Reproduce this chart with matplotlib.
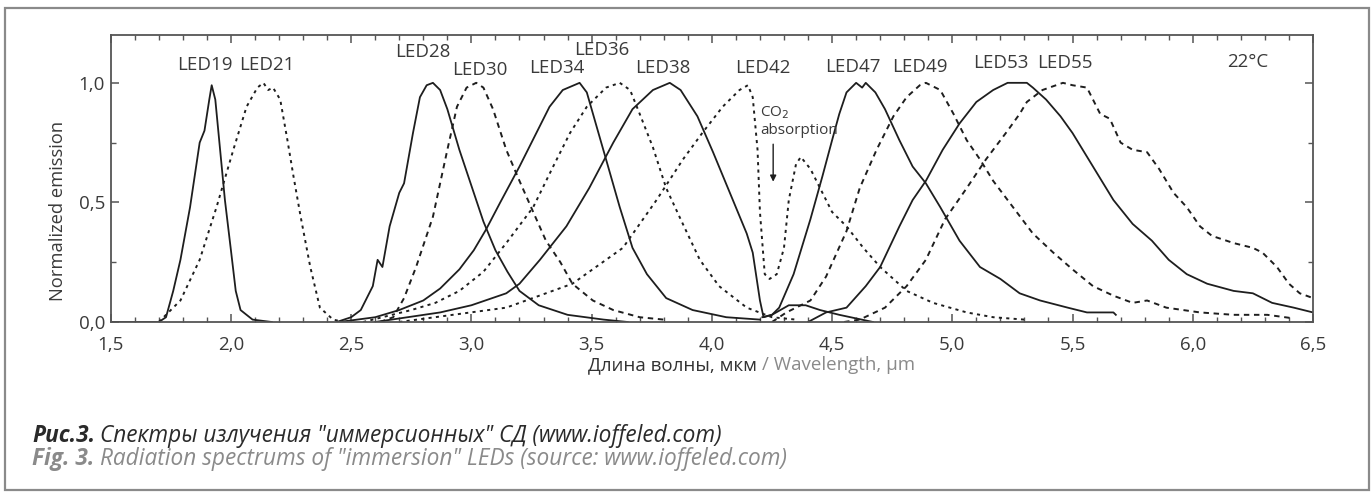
import matplotlib
matplotlib.use("Agg")
import matplotlib.pyplot as plt
from matplotlib.patches import Rectangle
from matplotlib.ticker import MultipleLocator, FixedLocator

plt.rcParams['font.family'] = ['Open Sans', 'DejaVu Sans']

# ---------------- data ----------------
led19_x = [1.50, 1.60, 1.70, 1.73, 1.76, 1.79, 1.83, 1.87, 1.89, 1.91, 1.92, 1.935, 1.955, 1.975, 2.00, 2.02, 2.04, 2.09, 2.17]
led19_y = [0.0, 0.0, 0.0, 0.02, 0.13, 0.26, 0.48, 0.75, 0.80, 0.93, 0.99, 0.93, 0.72, 0.51, 0.30, 0.13, 0.05, 0.01, 0.0]

led21_x = [1.70, 1.79, 1.87, 1.94, 2.01, 2.065, 2.11, 2.135, 2.155, 2.175, 2.205, 2.235, 2.26, 2.29, 2.33, 2.37, 2.425, 2.47]
led21_y = [0.0, 0.09, 0.26, 0.48, 0.72, 0.90, 0.98, 1.0, 0.97, 0.98, 0.93, 0.76, 0.61, 0.44, 0.23, 0.06, 0.01, 0.0]

led28_x = [2.44, 2.50, 2.54, 2.59, 2.61, 2.63, 2.66, 2.70, 2.72, 2.757, 2.786, 2.814, 2.84, 2.87, 2.90, 2.95, 3.00, 3.05, 3.10, 3.15, 3.20, 3.28, 3.40, 3.55, 3.65]
led28_y = [0.0, 0.02, 0.05, 0.15, 0.26, 0.23, 0.40, 0.54, 0.58, 0.79, 0.94, 0.99, 1.0, 0.97, 0.89, 0.72, 0.57, 0.42, 0.30, 0.21, 0.13, 0.07, 0.03, 0.01, 0.0]

led30_x = [2.62, 2.675, 2.72, 2.77, 2.84, 2.90, 2.94, 2.98, 3.02, 3.05, 3.09, 3.145, 3.20, 3.257, 3.31, 3.37, 3.42, 3.505, 3.59, 3.70, 3.80]
led30_y = [0.0, 0.02, 0.10, 0.23, 0.44, 0.72, 0.90, 0.98, 1.0, 0.98, 0.89, 0.72, 0.59, 0.46, 0.34, 0.25, 0.16, 0.09, 0.05, 0.02, 0.01]

led34_x = [2.45, 2.60, 2.70, 2.80, 2.87, 2.95, 3.01, 3.06, 3.12, 3.20, 3.27, 3.325, 3.38, 3.45, 3.48, 3.52, 3.56, 3.617, 3.67, 3.73, 3.81, 3.92, 4.06, 4.20]
led34_y = [0.0, 0.02, 0.05, 0.09, 0.14, 0.22, 0.30, 0.385, 0.50, 0.65, 0.79, 0.90, 0.97, 1.0, 0.96, 0.82, 0.68, 0.48, 0.31, 0.20, 0.10, 0.05, 0.02, 0.01]

led36_x = [2.55, 2.75, 2.85, 2.95, 3.05, 3.145, 3.257, 3.34, 3.41, 3.48, 3.56, 3.617, 3.66, 3.70, 3.755, 3.81, 3.87, 3.95, 4.03, 4.145, 4.25, 4.35]
led36_y = [0.0, 0.05, 0.08, 0.13, 0.21, 0.33, 0.48, 0.65, 0.79, 0.90, 0.98, 1.0, 0.97, 0.87, 0.73, 0.56, 0.43, 0.26, 0.15, 0.06, 0.02, 0.01]

led38_x = [2.60, 2.87, 3.00, 3.145, 3.20, 3.285, 3.395, 3.49, 3.59, 3.67, 3.755, 3.825, 3.87, 3.94, 4.005, 4.075, 4.145, 4.17, 4.20, 4.215, 4.25, 4.32, 4.39, 4.45, 4.53, 4.67]
led38_y = [0.0, 0.04, 0.07, 0.12, 0.16, 0.26, 0.40, 0.56, 0.75, 0.89, 0.97, 1.0, 0.97, 0.86, 0.71, 0.54, 0.37, 0.29, 0.09, 0.02, 0.03, 0.07, 0.07, 0.05, 0.03, 0.0]

led42_x = [2.70, 3.145, 3.42, 3.63, 3.77, 3.88, 3.96, 4.045, 4.115, 4.15, 4.17, 4.19, 4.20, 4.22, 4.24, 4.27, 4.30, 4.32, 4.35, 4.37, 4.41, 4.45, 4.50, 4.56, 4.63, 4.70, 4.81, 4.92, 5.06, 5.17, 5.30]
led42_y = [0.0, 0.06, 0.16, 0.31, 0.51, 0.68, 0.79, 0.90, 0.97, 0.99, 0.94, 0.72, 0.46, 0.20, 0.18, 0.20, 0.31, 0.51, 0.66, 0.69, 0.64, 0.56, 0.46, 0.40, 0.31, 0.23, 0.13, 0.08, 0.04, 0.02, 0.01]

led47_x = [4.21, 4.25, 4.28, 4.34, 4.41, 4.46, 4.50, 4.53, 4.56, 4.60, 4.625, 4.64, 4.68, 4.72, 4.78, 4.835, 4.89, 4.95, 5.03, 5.115, 5.20, 5.28, 5.365, 5.48, 5.56, 5.67, 5.68]
led47_y = [0.02, 0.03, 0.06, 0.20, 0.43, 0.61, 0.76, 0.87, 0.96, 1.0, 0.98, 1.0, 0.96, 0.89, 0.76, 0.65, 0.58, 0.48, 0.34, 0.23, 0.18, 0.12, 0.09, 0.06, 0.04, 0.04, 0.03]

led49_x = [4.25, 4.31, 4.41, 4.475, 4.56, 4.615, 4.685, 4.755, 4.81, 4.865, 4.89, 4.95, 5.005, 5.06, 5.115, 5.17, 5.23, 5.335, 5.42, 5.50, 5.585, 5.67, 5.75, 5.81, 5.89, 6.03, 6.17, 6.31, 6.42]
led49_y = [0.0, 0.04, 0.09, 0.19, 0.38, 0.56, 0.72, 0.86, 0.94, 0.99, 1.0, 0.97, 0.87, 0.76, 0.68, 0.59, 0.51, 0.37, 0.29, 0.22, 0.15, 0.11, 0.08, 0.09, 0.06, 0.04, 0.03, 0.03, 0.015]

led53_x = [4.40, 4.475, 4.56, 4.64, 4.70, 4.78, 4.835, 4.89, 4.96, 5.03, 5.10, 5.17, 5.23, 5.31, 5.335, 5.39, 5.45, 5.50, 5.585, 5.67, 5.75, 5.83, 5.90, 5.975, 6.06, 6.17, 6.25, 6.33, 6.42, 6.50]
led53_y = [0.0, 0.04, 0.06, 0.15, 0.23, 0.40, 0.51, 0.59, 0.72, 0.83, 0.92, 0.97, 1.0, 1.0, 0.98, 0.93, 0.86, 0.79, 0.65, 0.51, 0.41, 0.34, 0.26, 0.20, 0.16, 0.13, 0.12, 0.08, 0.06, 0.04]

led55_x = [4.55, 4.615, 4.72, 4.81, 4.89, 4.97, 5.06, 5.14, 5.23, 5.28, 5.31, 5.375, 5.46, 5.50, 5.56, 5.615, 5.655, 5.70, 5.75, 5.81, 5.86, 5.92, 5.975, 6.03, 6.08, 6.17, 6.25, 6.29, 6.35, 6.40, 6.445, 6.50]
led55_y = [0.0, 0.01, 0.06, 0.15, 0.26, 0.43, 0.56, 0.68, 0.80, 0.87, 0.92, 0.97, 1.0, 0.99, 0.98, 0.87, 0.85, 0.75, 0.72, 0.71, 0.64, 0.54, 0.48, 0.40, 0.36, 0.33, 0.31, 0.29, 0.23, 0.16, 0.12, 0.10]

led_names = ["LED19", "LED21", "LED28", "LED30", "LED34", "LED36", "LED38", "LED42", "LED47", "LED49", "LED53", "LED55"]
label_x = [1.892, 2.15, 2.80, 3.035, 3.356, 3.543, 3.797, 4.21, 4.587, 4.865, 5.20, 5.47]
label_y = [1.075, 1.075, 1.13, 1.054, 1.063, 1.138, 1.063, 1.063, 1.067, 1.067, 1.084, 1.084]

x_ticks = [1.5, 2.0, 2.5, 3.0, 3.5, 4.0, 4.5, 5.0, 5.5, 6.0, 6.5]
x_tick_labels = ["1,5", "2,0", "2,5", "3,0", "3,5", "4,0", "4,5", "5,0", "5,5", "6,0", "6,5"]
y_ticks = [0.0, 0.5, 1.0]
y_tick_labels = ["0,0", "0,5", "1,0"]

# ---------------- figure ----------------
fig = plt.figure(figsize=(13.72, 4.93), dpi=100)
fig.patch.set_facecolor('white')
fig.add_artist(Rectangle((5/1372, 1 - 490/493), 1364/1372, 482/493, transform=fig.transFigure,
                         fill=False, edgecolor='#8a8a8a', linewidth=1.6))

ax = fig.add_axes([110.7/1372, 1 - 322/493, (1313 - 110.7)/1372, (322 - 35)/493])

ink = '#1e1e1e'
solid = dict(color=ink, linewidth=1.3, linestyle='-')
dotted = dict(color=ink, linewidth=1.4, linestyle=(0, (1.6, 2.2)))
dashed = dict(color=ink, linewidth=1.4, linestyle=(0, (2.8, 2.4)))

ax.plot(led19_x, led19_y, **solid)
ax.plot(led21_x, led21_y, **dotted)
ax.plot(led28_x, led28_y, **solid)
ax.plot(led30_x, led30_y, **dashed)
ax.plot(led34_x, led34_y, **solid)
ax.plot(led36_x, led36_y, **dotted)
ax.plot(led38_x, led38_y, **solid)
ax.plot(led42_x, led42_y, **dotted)
ax.plot(led47_x, led47_y, **solid)
ax.plot(led49_x, led49_y, **dashed)
ax.plot(led53_x, led53_y, **solid)
ax.plot(led55_x, led55_y, **dashed)

ax.set_xlim(1.5, 6.5)
ax.set_ylim(0, 1.2)

txt = '#3a3a3a'
for name, lx, ly in zip(led_names, label_x, label_y):
    ax.text(lx, ly, name, ha='center', va='center', fontsize=13.5, color=txt)
ax.text(6.23, 1.088, "22°C", ha='center', va='center', fontsize=13.5, color=txt)

ax.text(4.20, 0.874, "CO$_2$", ha='left', va='center', fontsize=11, color=txt)
ax.text(4.20, 0.80, "absorption", ha='left', va='center', fontsize=11, color=txt)
ax.annotate("", xy=(4.255, 0.575), xytext=(4.255, 0.755),
            arrowprops=dict(arrowstyle='-|>', color=ink, lw=1.0, mutation_scale=9))

ax.xaxis.set_major_locator(FixedLocator(x_ticks))
ax.set_xticklabels(x_tick_labels)
ax.xaxis.set_minor_locator(MultipleLocator(0.1))
ax.yaxis.set_major_locator(FixedLocator(y_ticks))
ax.set_yticklabels(y_tick_labels)
ax.yaxis.set_minor_locator(FixedLocator([0.25, 0.75]))

ax.tick_params(which='both', direction='in', top=True, right=True, colors='#555555',
               labelcolor=txt, labelsize=13.5)
ax.tick_params(which='major', length=6, width=1.1)
ax.tick_params(which='minor', length=3.5, width=1.0)
ax.tick_params(axis='x', which='major', pad=10)
ax.tick_params(axis='y', which='major', pad=4)
for s in ax.spines.values():
    s.set_color('#555555')
    s.set_linewidth(1.3)

ax.set_ylabel("Normalized emission", fontsize=13.2, color=txt)
ax.yaxis.set_label_coords(-0.0364, (322 - 211) / 287)

# x label in two colours
fig.text(762/1372, 1 - 365/493, "Длина волны, мкм ", ha='right', va='center', fontsize=13.5, color='#333333')
fig.text(762/1372, 1 - 365/493, "/ Wavelength, µm", ha='left', va='center', fontsize=13.5, color='#8a8a8a')

# caption
fig.text(32/1372, 1 - 436/493, "Рис.3.", ha='left', va='center', fontsize=16.3,
         fontweight='bold', fontstyle='italic', color='#2a2a2a')
fig.text(100/1372, 1 - 436/493, "Спектры излучения \"иммерсионных\" СД (www.ioffeled.com)",
         ha='left', va='center', fontsize=16.3, fontstyle='italic', color='#2a2a2a')
fig.text(32/1372, 1 - 459/493, "Fig. 3.", ha='left', va='center', fontsize=16.3,
         fontweight='bold', fontstyle='italic', color='#8a8a8a')
fig.text(100/1372, 1 - 459/493, "Radiation spectrums of \"immersion\" LEDs (source: www.ioffeled.com)",
         ha='left', va='center', fontsize=16.3, fontstyle='italic', color='#8a8a8a')

fig.savefig("out.png", dpi=100, facecolor='white')
